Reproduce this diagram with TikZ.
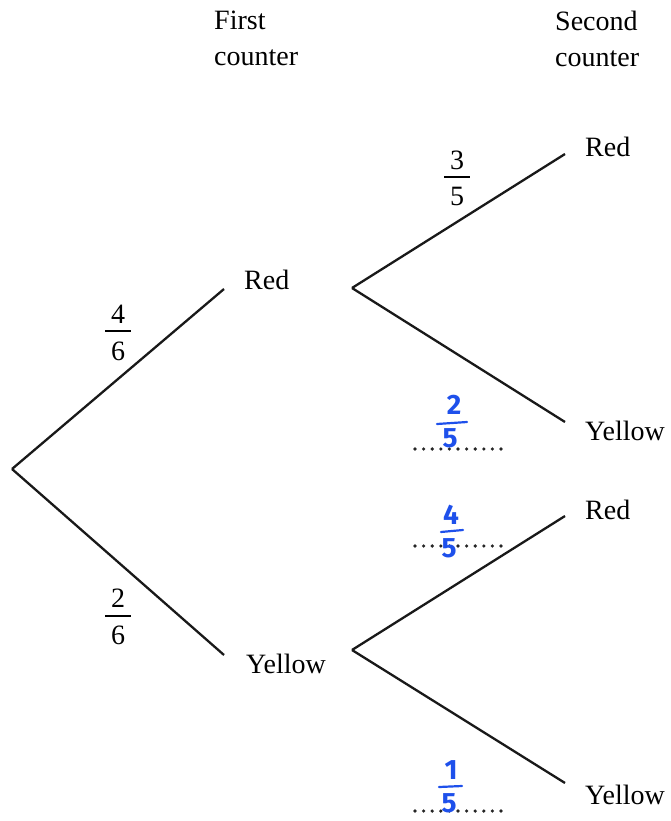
\documentclass[tikz,border=0pt]{standalone}
\usepackage{fontspec}
\setmainfont{Liberation Serif}
\newfontfamily\handfont{Fira Sans}
\begin{document}
\begin{tikzpicture}[x=1pt,y=-1pt,
  lbl/.style={inner sep=0pt,anchor=west,font=\fontsize{28}{36}\selectfont},
  head/.style={inner sep=0pt,anchor=north west,align=left,font=\fontsize{28}{36}\selectfont},
  branch/.style={line width=2.3pt,black!90},
  digit/.style={inner sep=0pt,font=\fontsize{28}{34}\selectfont},
  bar/.style={line width=1.3pt},
  hdigit/.style={inner sep=0pt,text=handblue,font=\handfont\bfseries\fontsize{28}{30}\selectfont},
  hbar/.style={line width=2.2pt,handblue,line cap=round},
  answer/.style={line width=3.6pt,dash pattern=on 0pt off 8.6pt,line cap=round,black!85}]
\definecolor{handblue}{RGB}{30,80,235}
\useasboundingbox (0,0) rectangle (671,821);

% headings
\node[head] (h1) at (214,11) {First\\counter};
\node[head] (h2) at (555,11) {Second\\counter};

% branch points
\coordinate (root) at (12,469);
\coordinate (r1e) at (224,289);
\coordinate (y1e) at (224,655);
\coordinate (r1s) at (352,288);
\coordinate (y1s) at (352,650);
\coordinate (rre) at (565,154);
\coordinate (rye) at (565,422);
\coordinate (yre) at (565,516);
\coordinate (yye) at (565,783);

% labels
\node[lbl] (red1) at (244,280) {Red};
\node[lbl] (yel1) at (246,664) {Yellow};
\node[lbl] (red2) at (585,147) {Red};
\node[lbl] (yel2) at (585,431) {Yellow};
\node[lbl] (red3) at (585,510) {Red};
\node[lbl] (yel3) at (585,795) {Yellow};

% branches
\draw[branch] (root) -- (r1e);
\draw[branch] (root) -- (y1e);
\draw[branch] (r1s) -- (rre);
\draw[branch] (r1s) -- (rye);
\draw[branch] (y1s) -- (yre);
\draw[branch] (y1s) -- (yye);

% printed fractions
\node[digit] (n46) at (118,314) {4};
\node[digit] (d46) at (118,351) {6};
\draw[bar] (105,331) -- (131,331);
\node[digit] (n26) at (118,598) {2};
\node[digit] (d26) at (118,635) {6};
\draw[bar] (105,616) -- (131,616);
\node[digit] (n35) at (457,160) {3};
\node[digit] (d35) at (457,196) {5};
\draw[bar] (444,177) -- (470,177);

% answer lines
\coordinate (a1s) at (415,449); \coordinate (a1e) at (505,449);
\coordinate (a2s) at (415,546); \coordinate (a2e) at (505,546);
\coordinate (a3s) at (415,811); \coordinate (a3e) at (505,811);
\draw[answer] (a1s) -- (a1e);
\draw[answer] (a2s) -- (a2e);
\draw[answer] (a3s) -- (a3e);

% handwritten fractions
\node[hdigit] (n25) at (454,405) {2};
\draw[hbar] (437,424) -- (467,422);
\node[hdigit] (d25) at (450,438) {5};
\node[hdigit] (n45) at (451,515) {4};
\draw[hbar] (441,532) -- (463,530);
\node[hdigit] (d45) at (449,548) {5};
\node[hdigit] (n15) at (451,770) {1};
\draw[hbar] (439,787) -- (462,786);
\node[hdigit] (d15) at (449,803) {5};
\end{tikzpicture}
\end{document}
